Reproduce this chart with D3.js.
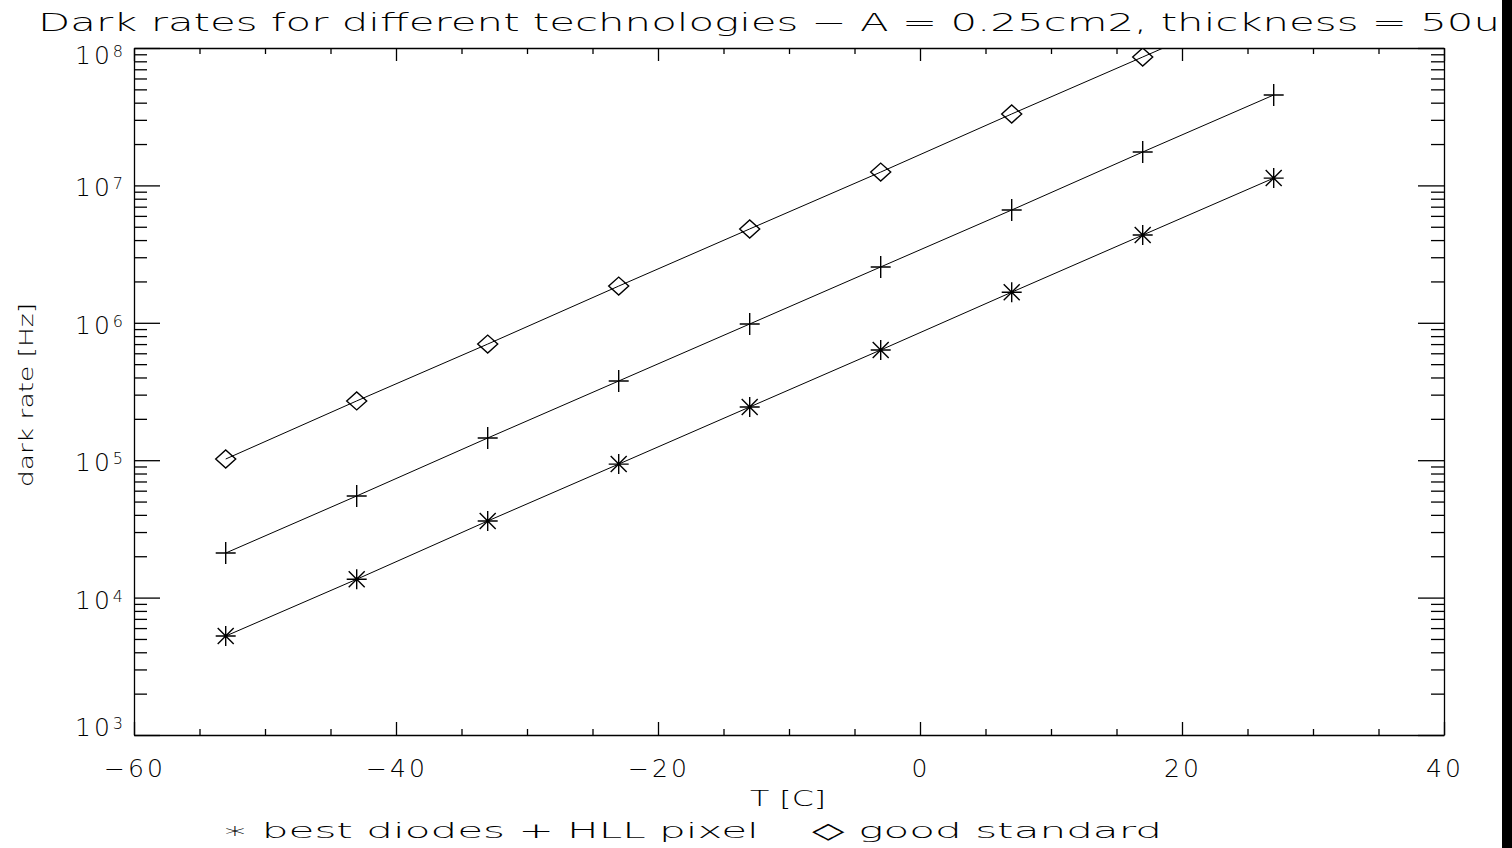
<!DOCTYPE html>
<meta charset="utf-8">
<style>
    body { margin: 0; background: #fff; }
    svg { display: block; }
    text {
        font-family: 'DejaVu Sans', 'Liberation Sans', sans-serif;
        font-weight: 200;
        fill: #000;
        white-space: pre;
    }
    .axis path, .axis line { stroke: #000; stroke-width: 1.3; }
    .series { fill: none; stroke: #000; stroke-width: 1; }
    .mark { fill: none; stroke: #000; stroke-width: 1.4; }
</style>
<svg width="1512" height="848"></svg>
<script src="https://d3js.org/d3.v7.min.js"></script>
<script>

    // temperatures [C]
    var temps = [-53, -43, -33, -23, -13, -3, 7, 17, 27];

    // dark rates [Hz]
    var goodStandard = [1.02e5, 2.7e5, 7.0e5, 1.85e6, 4.82e6, 1.25e7, 3.31e7, 8.6e7, 2.25e8];
    var hllPixel     = [2.11e4, 5.49e4, 1.45e5, 3.77e5, 9.8e5, 2.55e6, 6.62e6, 1.75e7, 4.55e7];
    var bestDiodes   = [5.25e3, 1.36e4, 3.61e4, 9.37e4, 2.44e5, 6.34e5, 1.67e6, 4.35e6, 1.13e7];

    var xTicks = [-60, -40, -20, 0, 20, 40];
    var yDecades = [3, 4, 5, 6, 7, 8];

    var svg = d3.select("svg"),
        plotLeft = 134, plotRight = 1444, plotTop = 48, plotBottom = 735;

    var x = d3.scaleLinear().domain([-60, 40]).range([plotLeft, plotRight]);
    var y = d3.scaleLog().domain([1e3, 1e8]).range([plotBottom, plotTop]);

    svg.append("clipPath").attr("id", "plot")
        .append("rect")
        .attr("x", plotLeft).attr("y", plotTop)
        .attr("width", plotRight - plotLeft).attr("height", plotBottom - plotTop);

    // minor ticks
    var xMinor = d3.range(-60, 41, 5).filter(function(v) { return v % 20 !== 0; });
    var yMinor = [];
    yDecades.slice(0, -1).forEach(function(e) {
        for (var k = 2; k <= 9; k++) yMinor.push(k * Math.pow(10, e));
    });
    var yMajor = yDecades.map(function(e) { return Math.pow(10, e); });

    function addAxis(axis, tx, ty) {
        var g = svg.append("g").attr("class", "axis")
            .attr("transform", "translate(" + tx + "," + ty + ")")
            .call(axis);
        g.selectAll("text").remove();
        return g;
    }

    addAxis(d3.axisBottom(x).tickValues(xTicks).tickSize(-13).tickSizeOuter(0), 0, plotBottom);
    addAxis(d3.axisBottom(x).tickValues(xMinor).tickSize(-6).tickSizeOuter(0), 0, plotBottom).select(".domain").remove();
    addAxis(d3.axisTop(x).tickValues(xTicks).tickSize(-13).tickSizeOuter(0), 0, plotTop);
    addAxis(d3.axisTop(x).tickValues(xMinor).tickSize(-6).tickSizeOuter(0), 0, plotTop).select(".domain").remove();

    addAxis(d3.axisLeft(y).tickValues(yMajor).tickSize(-26).tickSizeOuter(0), plotLeft, 0);
    addAxis(d3.axisLeft(y).tickValues(yMinor).tickSize(-13).tickSizeOuter(0), plotLeft, 0).select(".domain").remove();
    addAxis(d3.axisRight(y).tickValues(yMajor).tickSize(-26).tickSizeOuter(0), plotRight, 0);
    addAxis(d3.axisRight(y).tickValues(yMinor).tickSize(-13).tickSizeOuter(0), plotRight, 0).select(".domain").remove();

    // tick labels
    svg.append("g").selectAll("text")
        .data(xTicks)
        .enter().append("text")
        .attr("x", function(d) { return x(d) + 1; })
        .attr("y", plotBottom + 42)
        .attr("text-anchor", "middle")
        .style("font-size", "25px")
        .style("letter-spacing", "3px")
        .text(function(d) { return d < 0 ? "\u2212" + (-d) : d; });

    var yl = svg.append("g").selectAll("text")
        .data(yDecades)
        .enter().append("text")
        .attr("x", plotLeft - 11)
        .attr("y", function(d, i) {
            if (i === 0) return plotBottom + 1;
            if (i === yDecades.length - 1) return plotTop + 16;
            return y(Math.pow(10, d)) + 11;
        })
        .attr("text-anchor", "end")
        .style("font-size", "25px")
        .style("letter-spacing", "3px");
    yl.append("tspan").text("10");
    yl.append("tspan").attr("dy", -7).style("font-size", "16px").style("letter-spacing", "0px")
        .text(function(d) { return d; });

    // series
    var line = d3.line()
        .x(function(d) { return x(d[0]); })
        .y(function(d) { return y(d[1]); });

    var star = "M-10,0L10,0M0,-10L0,10M-8,-8L8,8M-8,8L8,-8";
    var plus = "M-10,0L10,0M0,-11L0,11";
    var diamond = "M-10,0L0,-9L10,0L0,9Z";

    var series = [
        { values: goodStandard, symbol: diamond },
        { values: hllPixel, symbol: plus },
        { values: bestDiodes, symbol: star }
    ];

    var plotG = svg.append("g").attr("clip-path", "url(#plot)");

    series.forEach(function(s) {
        var pts = temps.map(function(t, i) { return [t, s.values[i]]; });
        plotG.append("path").attr("class", "series").attr("d", line(pts));
        plotG.selectAll(null)
            .data(pts.filter(function(p) { return p[1] <= 1e8; }))
            .enter().append("path")
            .attr("class", "mark")
            .attr("transform", function(p) { return "translate(" + x(p[0]) + "," + y(p[1]) + ")"; })
            .attr("d", s.symbol);
    });

    // titles
    svg.append("text")
        .attr("x", 38).attr("y", 31)
        .attr("textLength", 1462).attr("lengthAdjust", "spacingAndGlyphs")
        .style("font-size", "25px")
        .text("Dark rates for different technologies \u2212 A = 0.25cm2, thickness = 50u");

    svg.append("text")
        .attr("transform", "translate(33,395) rotate(-90)")
        .attr("text-anchor", "middle")
        .attr("textLength", 184).attr("lengthAdjust", "spacingAndGlyphs")
        .style("font-size", "20px")
        .text("dark rate [Hz]");

    svg.append("text")
        .attr("x", 750).attr("y", 806)
        .attr("textLength", 76).attr("lengthAdjust", "spacingAndGlyphs")
        .style("font-size", "21px")
        .text("T [C]");

    svg.append("text")
        .attr("x", 222).attr("y", 838)
        .attr("textLength", 940).attr("lengthAdjust", "spacingAndGlyphs")
        .style("font-size", "22px")
        .text("\u2217 best diodes + HLL pixel    \u25C7 good standard");

    // dark strip on the right edge
    svg.append("rect")
        .attr("x", 1502).attr("y", 0)
        .attr("width", 10).attr("height", 848)
        .attr("fill", "#000");

</script>
